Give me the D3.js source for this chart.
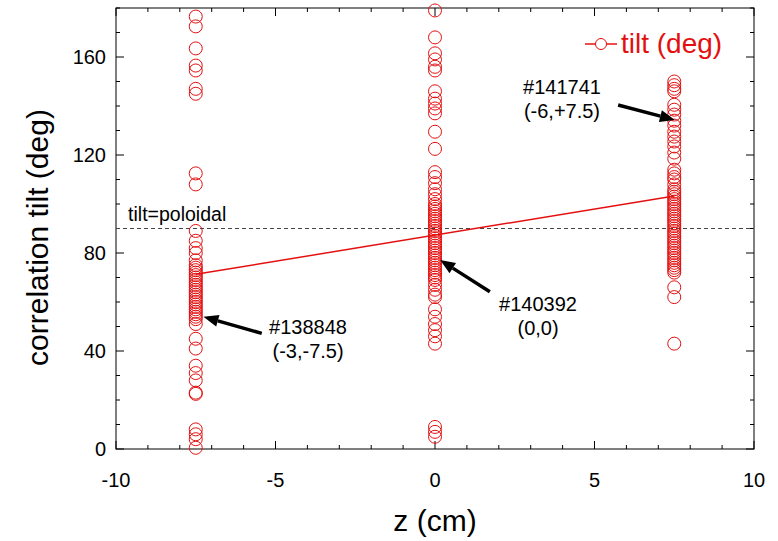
<!DOCTYPE html>
<html><head><meta charset="utf-8">
<script src="https://cdn.jsdelivr.net/npm/d3@7"></script>
<style>body{margin:0;background:#fff}svg{display:block}text{font-family:"Liberation Sans",Arial,Helvetica,sans-serif}</style>
</head><body><svg id="c" width="778" height="541"></svg>
<script>
// ---- data ----
const zPositions = [-7.5, 0, 7.5];
const tiltLeft = [176.5,172.5,163.5,156.5,154.5,147,145,112.5,108,
  89,85,82,80,77,75,74,73,72,71,70,69,68,67,66,65,64,63,62,61,60,59,58,57,56,55,54,53,51,45,41,34,31,28,23,22.5,8,6,4,0.5];
const tiltMid = [179,168,161.5,159,156,154.5,146,143,141,139,137,129.5,122.5,113,111,108.5,
  106,104,102,100,99,98,97,96,95,94,93,92,91,90,89,88,87,86,85,84,83,82,81,80,79,78,77,76,75,74,73,72,71,70,69,67,65,63,62,
  57,54,51,48.5,46,43,9,7,5];
const tiltRight = [150,148.5,147,146,140.5,138.5,136.5,134,132,129.5,127.5,125.5,123.5,121,118.5,
  114,112.5,111,110,108,106,105,104,103,102,101,100,99,98,97,96,95,94,93,92,91,90,89,88,87,86,85,84,83,82,81,80,79,78,77,76,75,74,73,72,66,62,43];
const fitZ = [-7.5, 7.5];
const fitTilt = [71.3, 103.3];
const poloidalTilt = 90;
const xTicks = [-10,-5,0,5,10];
const yTicks = [0,40,80,120,160];
const annotations = [
  {lines:["#138848","(-3,-7.5)"], z:-3.98, t:46.9, from:[-5.43,47.2], to:[-7.26,54.0]},
  {lines:["#140392","(0,0)"], z:3.23, t:56.3, from:[1.72,64.2], to:[0.16,77.1]},
  {lines:["#141741","(-6,+7.5)"], z:3.98, t:144.9, from:[5.74,140.4], to:[7.52,134.3]}
];
const legendLabel = "tilt (deg)";

// ---- chart ----
const svg = d3.select("#c");
const L=116, R=754, T=8, B=449;
const x = d3.scaleLinear().domain([-10,10]).range([L,R]);
const y = d3.scaleLinear().domain([0,180]).range([B,T]);
const red = "#e41010";

// frame
svg.append("rect").attr("x",L).attr("y",T).attr("width",R-L).attr("height",B-T)
  .attr("fill","none").attr("stroke","#000").attr("stroke-width",1);

// ticks (inward, mirrored)
const g = svg.append("g").attr("stroke","#000").attr("stroke-width",1);
d3.range(-10,10.01,1).forEach(v=>{
  const major = xTicks.includes(v); const len = major?8:4;
  const px = x(v);
  g.append("line").attr("x1",px).attr("x2",px).attr("y1",B).attr("y2",B-len);
  g.append("line").attr("x1",px).attr("x2",px).attr("y1",T).attr("y2",T+len);
});
d3.range(0,180.01,10).forEach(v=>{
  const major = yTicks.includes(v); const len = major?8:4;
  const py = y(v);
  g.append("line").attr("y1",py).attr("y2",py).attr("x1",L).attr("x2",L+len);
  g.append("line").attr("y1",py).attr("y2",py).attr("x1",R).attr("x2",R-len);
});
xTicks.forEach(v=>svg.append("text").attr("x",x(v)).attr("y",487).attr("text-anchor","middle")
  .attr("font-size",20).text(v));
yTicks.forEach(v=>svg.append("text").attr("x",106).attr("y",y(v)+7).attr("text-anchor","end")
  .attr("font-size",20).text(v));

// axis titles
svg.append("text").attr("x",x(0)).attr("y",531).attr("text-anchor","middle").attr("font-size",30).text("z (cm)");
svg.append("text").attr("transform",`translate(48,${(T+B)/2+9}) rotate(-90)`).attr("text-anchor","middle")
  .attr("font-size",30).text("correlation tilt (deg)");

// poloidal dashed line
svg.append("line").attr("x1",L).attr("x2",R).attr("y1",y(poloidalTilt)).attr("y2",y(poloidalTilt))
  .attr("stroke","#444").attr("stroke-width",1).attr("stroke-dasharray","4,3");
svg.append("text").attr("x",x(-9.62)).attr("y",y(93.1)).attr("font-size",19.5).text("tilt=poloidal");

// points
const series = [tiltLeft, tiltMid, tiltRight];
series.forEach((vals,i)=>{
  svg.append("g").selectAll("circle").data(vals).join("circle")
    .attr("cx",x(zPositions[i])).attr("cy",d=>y(d)).attr("r",6.5)
    .attr("fill","none").attr("stroke",red).attr("stroke-width",1);
});

// fit line
svg.append("line").attr("x1",x(fitZ[0])).attr("y1",y(fitTilt[0])).attr("x2",x(fitZ[1])).attr("y2",y(fitTilt[1]))
  .attr("stroke",red).attr("stroke-width",1.5);

// annotations
annotations.forEach(a=>{
  a.lines.forEach((s,k)=>svg.append("text").attr("x",x(a.z)).attr("y",y(a.t)+k*24)
    .attr("text-anchor","middle").attr("font-size",20).text(s));
  const x1=x(a.from[0]), y1=y(a.from[1]), x2=x(a.to[0]), y2=y(a.to[1]);
  const ang = Math.atan2(y2-y1,x2-x1), hl=15, hw=6;
  const bx = x2-hl*Math.cos(ang), by = y2-hl*Math.sin(ang);
  svg.append("line").attr("x1",x1).attr("y1",y1).attr("x2",bx).attr("y2",by)
    .attr("stroke","#000").attr("stroke-width",3.5);
  const px=-Math.sin(ang), py=Math.cos(ang);
  svg.append("polygon").attr("points",[[x2,y2],[bx+hw*px,by+hw*py],[bx-hw*px,by-hw*py]].map(p=>p.join(",")).join(" "))
    .attr("fill","#000");
});

// legend
svg.append("line").attr("x1",585).attr("x2",617).attr("y1",44).attr("y2",44).attr("stroke",red).attr("stroke-width",1.5);
svg.append("circle").attr("cx",601).attr("cy",44).attr("r",5.5).attr("fill","#fff").attr("stroke",red).attr("stroke-width",1);
svg.append("text").attr("x",621).attr("y",53).attr("font-size",28).attr("fill",red).text(legendLabel);
</script></body></html>
